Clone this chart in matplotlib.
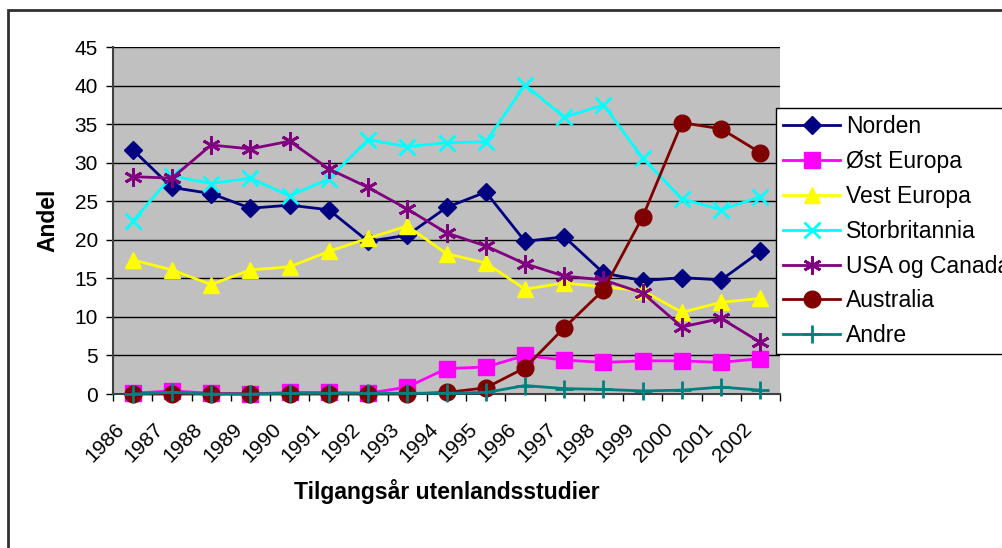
import matplotlib
matplotlib.use("Agg")
import matplotlib.pyplot as plt
import matplotlib.transforms as mtransforms
from matplotlib.patches import Rectangle

years = ["1986", "1987", "1988", "1989", "1990", "1991", "1992", "1993", "1994",
         "1995", "1996", "1997", "1998", "1999", "2000", "2001", "2002"]

norden = [31.7, 26.8, 26.0, 24.1, 24.5, 23.9, 19.8, 20.6, 24.2, 26.2, 19.8, 20.4, 15.7, 14.7, 15.1, 14.8, 18.5]
ost_europa = [0.1, 0.4, 0.1, 0.0, 0.2, 0.2, 0.1, 0.9, 3.3, 3.5, 5.0, 4.4, 4.1, 4.3, 4.3, 4.1, 4.6]
vest_europa = [17.4, 16.1, 14.2, 16.1, 16.5, 18.5, 20.2, 21.8, 18.2, 17.0, 13.6, 14.4, 13.9, 13.4, 10.6, 11.9, 12.4]
storbritannia = [22.4, 28.3, 27.3, 28.0, 25.7, 27.9, 33.0, 32.1, 32.6, 32.7, 40.1, 35.9, 37.5, 30.6, 25.3, 23.9, 25.6]
usa_canada = [28.2, 28.0, 32.3, 31.8, 32.8, 29.2, 26.8, 24.0, 20.9, 19.2, 16.9, 15.3, 14.8, 13.1, 8.7, 9.8, 6.7]
australia = [0.0, 0.0, 0.0, 0.0, 0.0, 0.0, 0.0, 0.0, 0.2, 0.8, 3.4, 8.6, 13.5, 23.0, 35.2, 34.4, 31.3]
andre = [0.0, 0.2, 0.0, 0.0, 0.1, 0.1, 0.1, 0.1, 0.1, 0.2, 1.1, 0.7, 0.6, 0.4, 0.5, 0.9, 0.5]

series = [
    ("Norden", norden, "#000080", "D", 9),
    ("Øst Europa", ost_europa, "#FF00FF", "s", 11),
    ("Vest Europa", vest_europa, "#FFFF00", "^", 12),
    ("Storbritannia", storbritannia, "#00FFFF", "x", 12),
    ("USA og Canada", usa_canada, "#800080", (6, 2, 0), 13),
    ("Australia", australia, "#800000", "o", 12),
    ("Andre", andre, "#008080", "+", 13),
]

plt.rcParams['font.family'] = ['Liberation Sans', 'DejaVu Sans']

fig = plt.figure(figsize=(10.03, 5.48), dpi=100)
ax = fig.add_axes([0.1127, 0.281, 0.665, 0.633])
ax.set_facecolor("#C0C0C0")

x = list(range(len(years)))
for name, vals, col, mk, ms in series:
    mew = 2.0 if mk in ("x", "+") or isinstance(mk, tuple) else 1.0
    ax.plot(x, vals, color=col, lw=2.0, marker=mk, markersize=ms,
            markerfacecolor=col, markeredgecolor=col, markeredgewidth=mew,
            label=name, clip_on=False, zorder=3)

ax.set_xlim(-0.5, len(years) - 0.5)
ax.set_ylim(0, 45)
ax.set_yticks(range(0, 46, 5))
ax.set_xticks(x)
ax.set_xticklabels(years, rotation=45, ha="right", rotation_mode="anchor")
ax.set_xticks([i - 0.5 for i in range(len(years) + 1)], minor=True)
ax.tick_params(axis="x", which="major", length=0, labelsize=15, pad=9)
ax.tick_params(axis="x", which="minor", length=5, width=1, direction="out")
ax.tick_params(axis="y", length=5, width=1, direction="out", labelsize=15, pad=6)
shift = mtransforms.ScaledTranslation(-18 / 100, -13 / 100, fig.dpi_scale_trans)
for lab in ax.get_xticklabels():
    lab.set_transform(lab.get_transform() + shift)
ax.yaxis.grid(True, color="black", lw=1)
ax.set_axisbelow(True)
for s in ["top", "right"]:
    ax.spines[s].set_visible(False)
ax.spines["left"].set_linewidth(1.5)
ax.spines["left"].set_color("#404040")
ax.spines["bottom"].set_linewidth(1.5)
ax.spines["bottom"].set_color("#404040")

ax.set_ylabel("Andel", fontsize=16.5, fontweight="bold", labelpad=11)
ax.set_xlabel("Tilgangsår utenlandsstudier", fontsize=16.5, fontweight="bold")
ax.xaxis.set_label_coords(0.5, -0.245)

leg = fig.legend(loc="upper left", bbox_to_anchor=(776 / 1003, 1 - 108 / 548),
                 frameon=True, fancybox=False, fontsize=16.5, borderpad=0.3,
                 labelspacing=0.52, handlelength=2.5, handletextpad=0.25,
                 borderaxespad=0)
leg.get_frame().set_edgecolor("black")
leg.get_frame().set_linewidth(1.0)
leg.get_frame().set_facecolor("white")
leg.get_frame().set_alpha(1.0)

fig.patches.append(Rectangle((8 / 1003, -0.05), 1.1, 1 - 10 / 548 + 0.05,
                             transform=fig.transFigure, fill=False,
                             edgecolor="#303030", lw=2, zorder=0))

fig.savefig("out.png", dpi=100)
